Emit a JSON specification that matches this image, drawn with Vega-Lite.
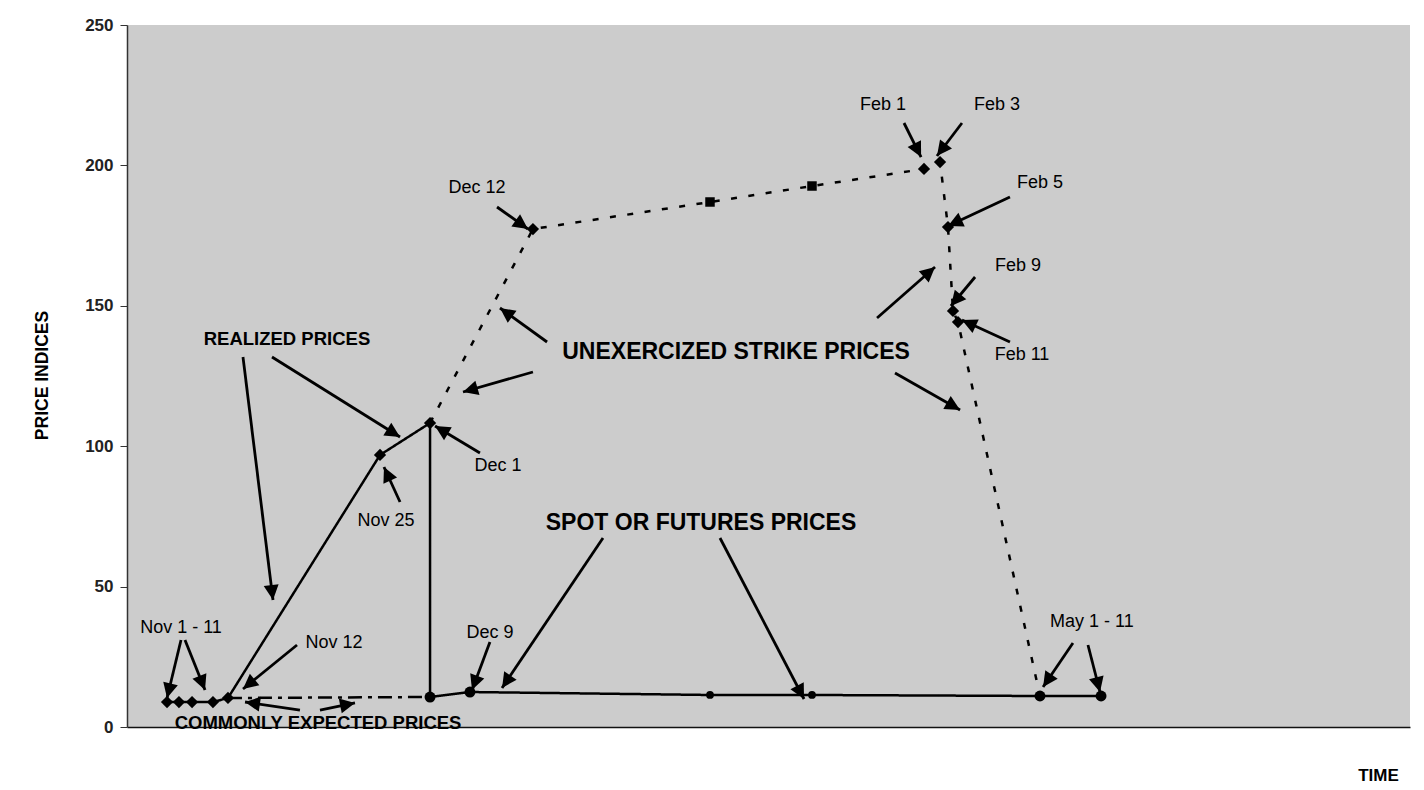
{
  "$schema": "https://vega.github.io/schema/vega-lite/v6.json",
  "autosize": {"type": "none"},
  "padding": {"left": 127, "top": 25, "right": 14, "bottom": 63},
  "width": 1283,
  "height": 702,
  "background": "white",
  "config": {
    "view": {"fill": "#cccccc", "stroke": null},
    "font": "Liberation Sans, Arial, sans-serif"
  },
  "datasets": {
    "series": [
      {"series": "spot", "order": 1, "t": 3.12, "price": 8.9, "kind": "diamond"},
      {"series": "spot", "order": 2, "t": 4.05, "price": 8.9, "kind": "diamond"},
      {"series": "spot", "order": 3, "t": 5.07, "price": 8.9, "kind": "diamond"},
      {"series": "spot", "order": 4, "t": 6.70, "price": 8.9, "kind": "diamond"},
      {"series": "spot", "order": 5, "t": 7.87, "price": 10.33, "kind": "diamond"},
      {"series": "spot", "order": 6, "t": 19.72, "price": 96.87, "kind": "diamond"},
      {"series": "spot", "order": 7, "t": 23.62, "price": 108.26, "kind": "diamond"},
      {"series": "spot", "order": 8, "t": 23.62, "price": 10.68, "kind": "circle"},
      {"series": "spot", "order": 9, "t": 26.73, "price": 12.46, "kind": "circle"},
      {"series": "spot", "order": 10, "t": 45.44, "price": 11.4, "kind": "dot"},
      {"series": "spot", "order": 11, "t": 53.39, "price": 11.4, "kind": "dot"},
      {"series": "spot", "order": 12, "t": 71.16, "price": 11.04, "kind": "circle"},
      {"series": "spot", "order": 13, "t": 75.92, "price": 11.04, "kind": "circle"},
      {"series": "expected", "order": 1, "t": 7.87, "price": 10.33, "kind": "none"},
      {"series": "expected", "order": 2, "t": 23.62, "price": 10.68, "kind": "none"},
      {"series": "strike", "order": 1, "t": 23.62, "price": 108.26, "kind": "none"},
      {"series": "strike", "order": 2, "t": 31.64, "price": 177.35, "kind": "diamond"},
      {"series": "strike", "order": 3, "t": 45.44, "price": 186.97, "kind": "small"},
      {"series": "strike", "order": 4, "t": 53.39, "price": 192.66, "kind": "small"},
      {"series": "strike", "order": 5, "t": 62.12, "price": 198.72, "kind": "diamond"},
      {"series": "strike", "order": 6, "t": 63.37, "price": 201.21, "kind": "diamond"},
      {"series": "strike", "order": 7, "t": 63.99, "price": 178.06, "kind": "diamond"},
      {"series": "strike", "order": 8, "t": 64.38, "price": 148.15, "kind": "diamond"},
      {"series": "strike", "order": 9, "t": 64.77, "price": 144.23, "kind": "diamond"},
      {"series": "strike", "order": 10, "t": 71.16, "price": 11.04, "kind": "none"}
    ],
    "arrows": [
      {"t": 4.21, "price": 30.98, "t2": 3.12, "price2": 10.33},
      {"t": 4.52, "price": 30.98, "t2": 6.08, "price2": 13.18},
      {"t": 13.25, "price": 29.20, "t2": 9.04, "price2": 13.53},
      {"t": 13.48, "price": 6.05, "t2": 9.20, "price2": 8.90},
      {"t": 15.04, "price": 6.05, "t2": 17.77, "price2": 8.55},
      {"t": 28.29, "price": 30.27, "t2": 26.89, "price2": 13.18},
      {"t": 37.10, "price": 67.31, "t2": 29.23, "price2": 13.89},
      {"t": 46.22, "price": 67.31, "t2": 52.77, "price2": 9.97},
      {"t": 27.51, "price": 97.58, "t2": 24.01, "price2": 107.19},
      {"t": 21.28, "price": 80.13, "t2": 20.03, "price2": 92.59},
      {"t": 9.04, "price": 131.77, "t2": 11.38, "price2": 45.23},
      {"t": 11.30, "price": 131.77, "t2": 21.28, "price2": 103.28},
      {"t": 31.64, "price": 126.42, "t2": 26.19, "price2": 119.30},
      {"t": 32.74, "price": 137.11, "t2": 29.07, "price2": 149.22},
      {"t": 58.46, "price": 145.66, "t2": 62.98, "price2": 163.82},
      {"t": 59.86, "price": 126.07, "t2": 64.93, "price2": 112.89},
      {"t": 28.84, "price": 185.19, "t2": 31.25, "price2": 177.35},
      {"t": 60.56, "price": 215.10, "t2": 61.89, "price2": 202.99},
      {"t": 65.08, "price": 215.10, "t2": 63.13, "price2": 203.35},
      {"t": 68.82, "price": 188.75, "t2": 63.99, "price2": 178.42},
      {"t": 66.10, "price": 160.26, "t2": 64.22, "price2": 149.93},
      {"t": 68.82, "price": 137.11, "t2": 65.08, "price2": 144.94},
      {"t": 73.73, "price": 29.91, "t2": 71.40, "price2": 14.25},
      {"t": 74.90, "price": 29.20, "t2": 75.84, "price2": 12.46}
    ],
    "labels": [
      {"text": "Nov 1 - 11", "t": 4.21, "price": 35.26, "style": "date"},
      {"text": "Nov 12", "t": 16.13, "price": 29.91, "style": "date"},
      {"text": "Dec 9", "t": 28.29, "price": 33.48, "style": "date"},
      {"text": "Dec 1", "t": 28.92, "price": 92.95, "style": "date"},
      {"text": "Nov 25", "t": 20.19, "price": 73.36, "style": "date"},
      {"text": "Dec 12", "t": 27.28, "price": 191.95, "style": "date"},
      {"text": "Feb 1", "t": 58.92, "price": 221.51, "style": "date"},
      {"text": "Feb 3", "t": 67.81, "price": 221.51, "style": "date"},
      {"text": "Feb 5", "t": 71.16, "price": 193.73, "style": "date"},
      {"text": "Feb 9", "t": 69.45, "price": 164.17, "style": "date"},
      {"text": "Feb 11", "t": 69.76, "price": 132.48, "style": "date"},
      {"text": "May 1 - 11", "t": 75.21, "price": 37.39, "style": "date"},
      {"text": "COMMONLY EXPECTED PRICES", "t": 14.89, "price": 1.42, "style": "small"},
      {"text": "REALIZED PRICES", "t": 12.47, "price": 138.18, "style": "small"},
      {"text": "SPOT OR FUTURES PRICES", "t": 44.74, "price": 72.65, "style": "big"},
      {"text": "UNEXERCIZED STRIKE PRICES", "t": 47.47, "price": 133.55, "style": "big"}
    ]
  },
  "encoding": {
    "x": {"field": "t", "type": "quantitative", "scale": {"domain": [0, 100], "nice": false, "zero": false},
      "axis": {"title": "TIME", "labels": false, "ticks": false, "grid": false, "domainColor": "#111111", "domainWidth": 1.5,
        "titleFontSize": 17, "titleFontWeight": "bold", "titleColor": "black", "titleX": 1251, "titleY": 48, "titleAlign": "center", "titleBaseline": "middle"}},
    "y": {"field": "price", "type": "quantitative", "scale": {"domain": [0, 250], "nice": false},
      "axis": {"title": "PRICE INDICES", "values": [0, 50, 100, 150, 200, 250], "grid": false, "domainColor": "#333333", "domainWidth": 1.5,
        "tickColor": "#333333", "tickSize": 7, "tickWidth": 1, "labelFontSize": 17, "labelFontWeight": "bold", "labelColor": "#222222", "labelPadding": 7,
        "titleFontSize": 17.5, "titleFontWeight": "bold", "titleColor": "black", "titleX": -85, "titleY": 350, "titleAlign": "center", "titleBaseline": "middle", "titleAngle": -90}}
  },
  "layer": [
    {
      "data": {"name": "series"},
      "mark": {"type": "line", "color": "black", "strokeWidth": 2.5},
      "encoding": {
        "detail": {"field": "series"},
        "order": {"field": "order", "type": "quantitative"},
        "strokeDash": {"field": "series", "type": "nominal", "legend": null,
          "scale": {"domain": ["spot", "expected", "strike"], "range": [[1, 0], [14, 6, 4, 6], [6, 11.5]]}}
      }
    },
    {
      "data": {"name": "series"},
      "transform": [{"filter": "datum.kind != 'none'"}],
      "mark": {"type": "point", "filled": true, "color": "black", "opacity": 1},
      "encoding": {
        "shape": {"field": "kind", "type": "nominal", "legend": null,
          "scale": {"domain": ["diamond", "circle", "small", "dot"], "range": ["diamond", "circle", "square", "circle"]}},
        "size": {"field": "kind", "type": "nominal", "legend": null,
          "scale": {"domain": ["diamond", "circle", "small", "dot"], "range": [150, 60, 30, 25]}}
      }
    },
    {
      "data": {"name": "arrows"},
      "mark": {"type": "rule", "color": "black", "strokeWidth": 2.8},
      "encoding": {
        "x2": {"field": "t2"},
        "y2": {"field": "price2"}
      }
    },
    {
      "data": {"name": "arrows"},
      "transform": [{"calculate": "atan2((datum.t2 - datum.t) * 12.83, (datum.price2 - datum.price) * 2.808) * 180 / PI", "as": "angle"}],
      "mark": {"type": "point", "filled": true, "color": "black", "opacity": 1, "size": 900, "shape": "M0,0 L-0.5,1 L0.5,1 Z"},
      "encoding": {
        "x": {"field": "t2", "type": "quantitative"},
        "y": {"field": "price2", "type": "quantitative"},
        "angle": {"field": "angle", "type": "quantitative", "scale": null}
      }
    },
    {
      "data": {"name": "labels"},
      "transform": [{"filter": "datum.style == 'date'"}],
      "mark": {"type": "text", "fontSize": 18, "color": "black", "align": "center", "baseline": "middle"},
      "encoding": {"text": {"field": "text"}}
    },
    {
      "data": {"name": "labels"},
      "transform": [{"filter": "datum.style == 'small'"}],
      "mark": {"type": "text", "fontSize": 18.5, "fontWeight": "bold", "color": "black", "align": "center", "baseline": "middle"},
      "encoding": {"text": {"field": "text"}}
    },
    {
      "data": {"name": "labels"},
      "transform": [{"filter": "datum.style == 'big'"}],
      "mark": {"type": "text", "fontSize": 23, "fontWeight": "bold", "color": "black", "align": "center", "baseline": "middle"},
      "encoding": {"text": {"field": "text"}}
    }
  ]
}
